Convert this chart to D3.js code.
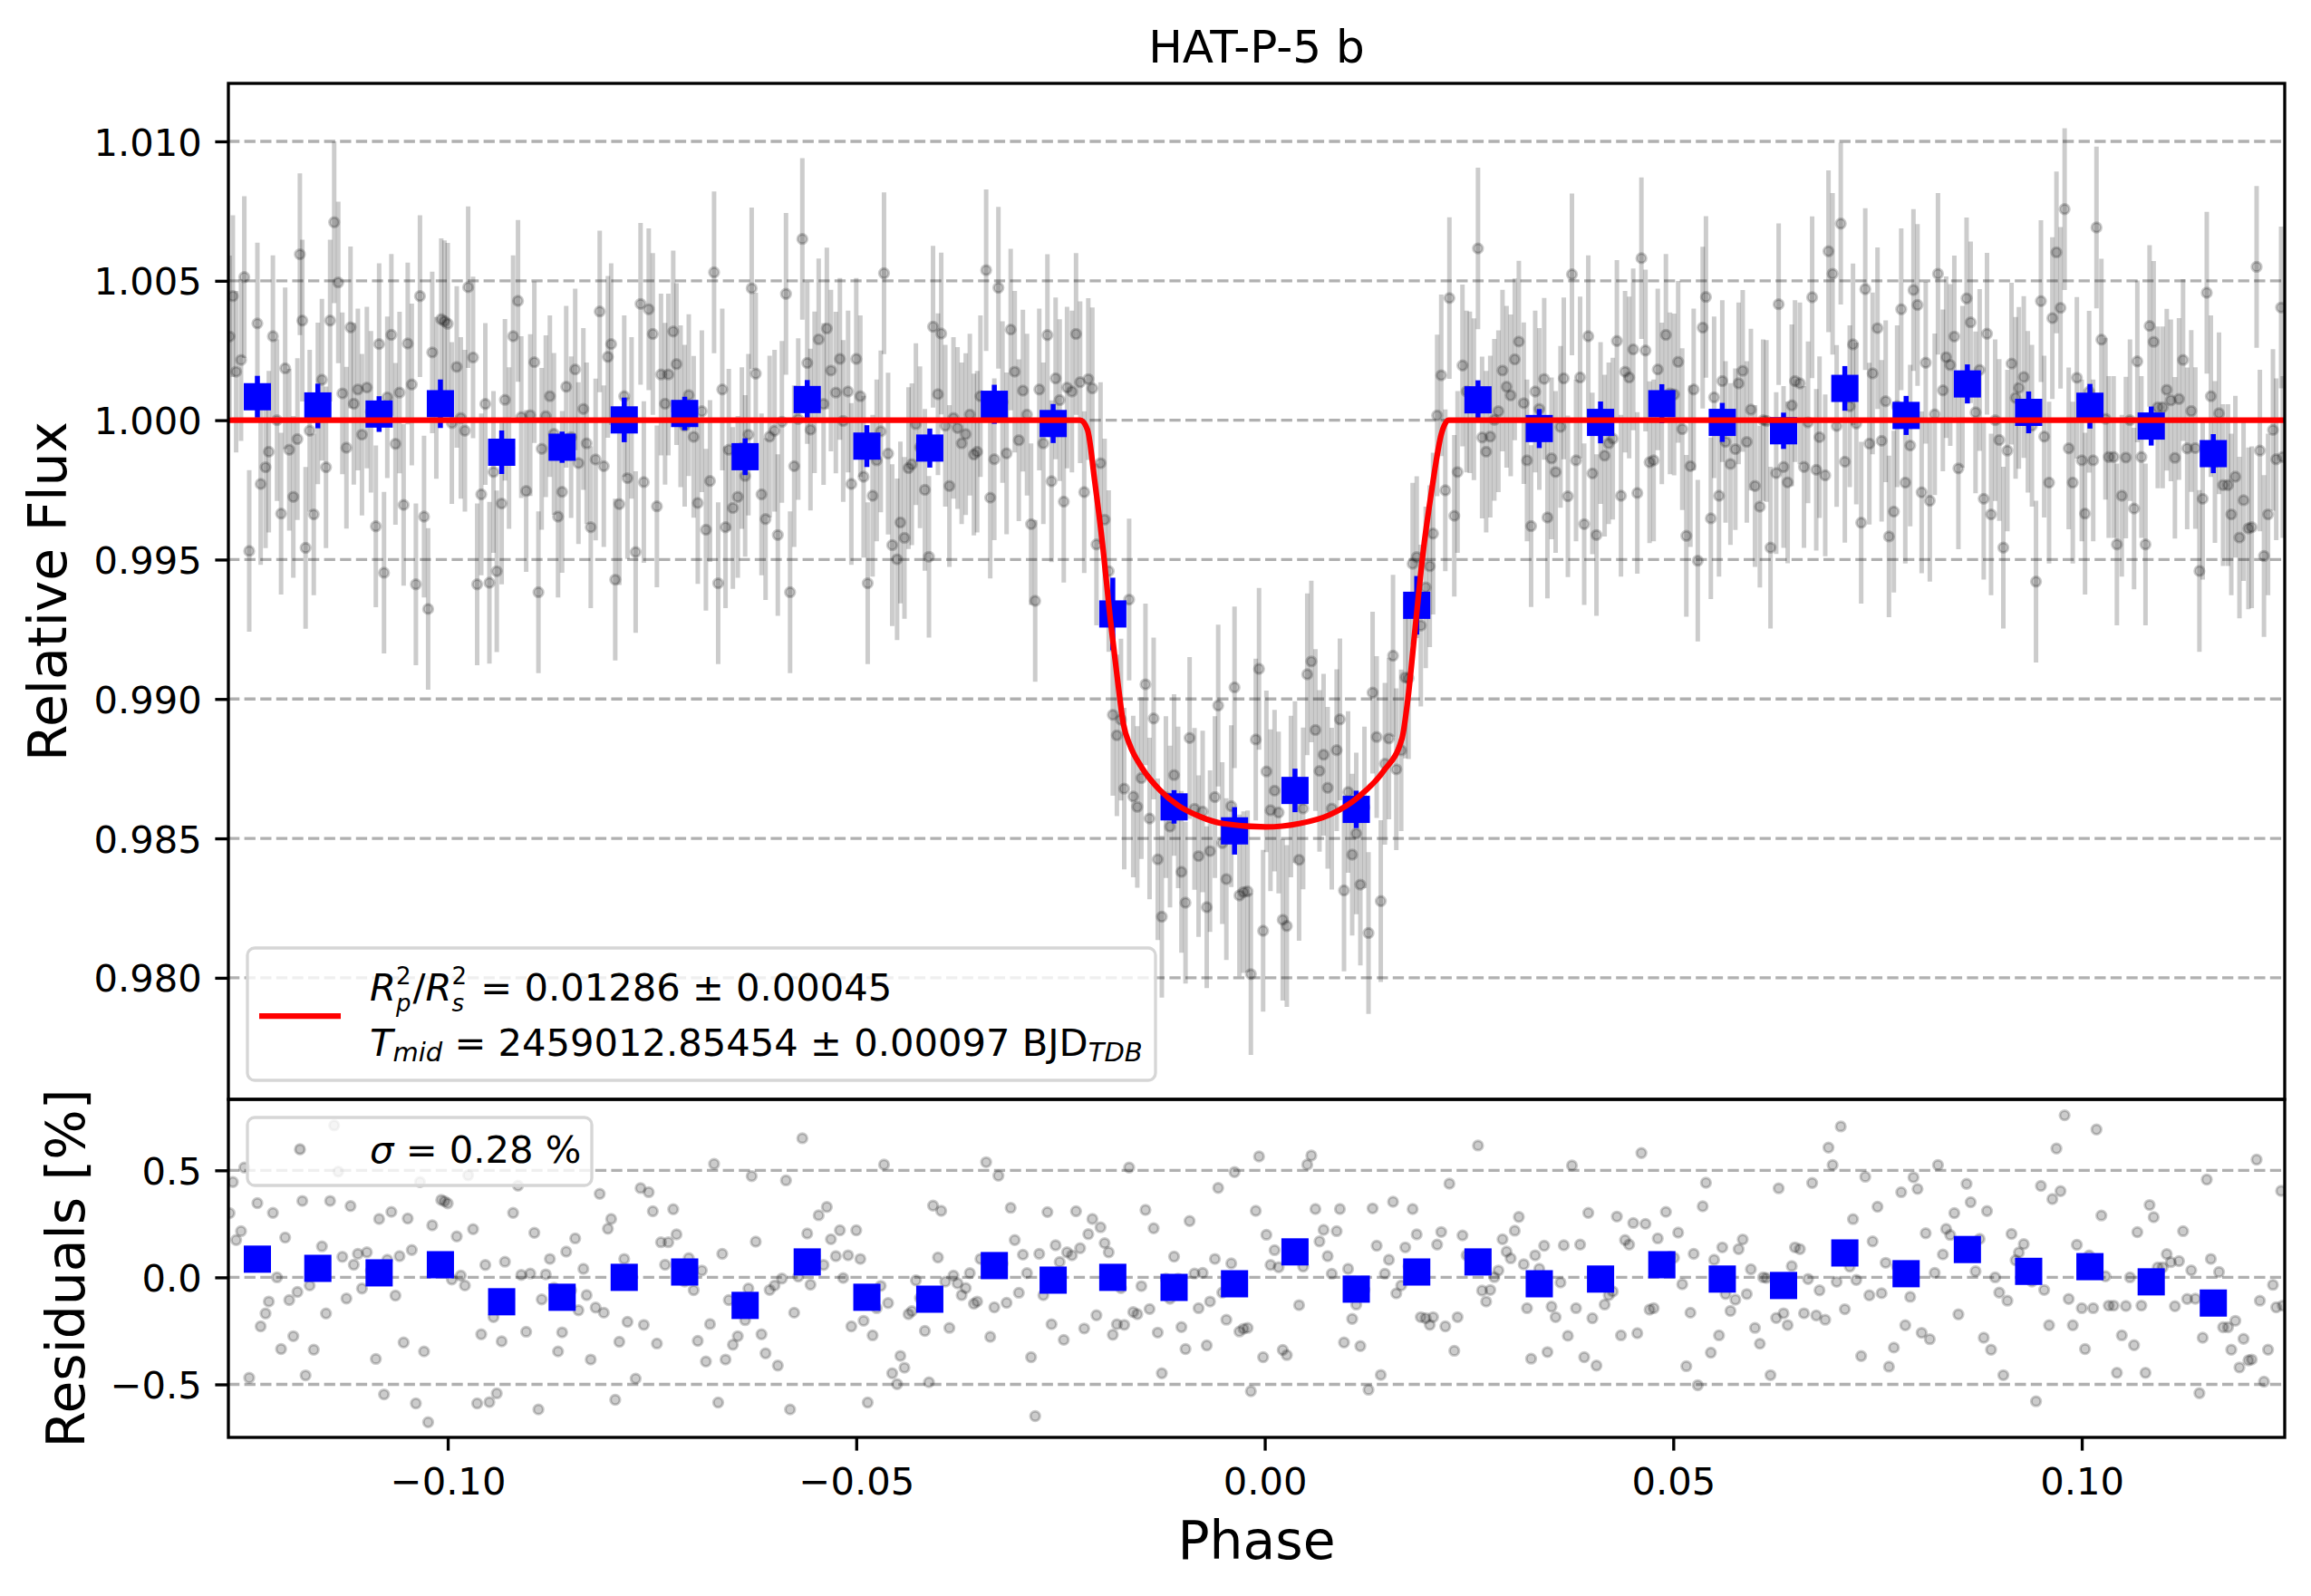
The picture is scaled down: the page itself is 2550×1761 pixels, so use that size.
<!DOCTYPE html>
<html><head>
<meta charset="utf-8">
<title>HAT-P-5 b</title>
<script src="https://d3js.org/d3.v7.min.js"></script>
<style>
  body { margin: 0; background: #fff; }
  svg { display: block; }
  text { font-family: "DejaVu Sans", sans-serif; fill: #000; }
</style>
</head>
<body>
<svg id="lightcurve" width="2550" height="1761"></svg>
<script>

// ---- data ----
// transit model (red line), phase / relative flux
const modelPhase = [-0.1269, -0.0226, -0.0217, -0.0208, -0.0198, -0.0189, -0.0180, -0.0173, -0.0165, -0.0150, -0.0128,
  -0.0106, -0.0080, -0.0051, 0.0001, 0.0042, 0.0079, 0.0116, 0.0145, 0.0168, 0.0175, 0.0184, 0.0193, 0.0205, 0.0216, 0.0225, 0.1249];
const modelFlux = [1.0, 1.0, 0.99966, 0.99779, 0.99540, 0.99285, 0.99064, 0.98910, 0.98834, 0.98752, 0.98672,
  0.98618, 0.98579, 0.98553, 0.98541, 0.98553, 0.98584, 0.98652, 0.98740, 0.98859, 0.98996, 0.99251, 0.99506, 0.99762, 0.99949, 1.0, 1.0];

// individual observations: [phase, residual in %]
const obs = [
[-0.1267,0.30],[-0.1263,0.445],[-0.1259,0.174],[-0.1253,0.216],[-0.1249,0.513],[-0.1243,-0.469],[-0.1233,0.347],[-0.1229,-0.229],[-0.1223,-0.169],[-0.1219,-0.113],
[-0.1214,0.301],[-0.1209,0.0],[-0.1204,-0.335],[-0.1199,0.186],[-0.1194,-0.106],[-0.1189,-0.275],[-0.1184,-0.068],[-0.1181,0.595],[-0.1178,0.357],[-0.1174,-0.458],
[-0.1169,-0.038],[-0.1164,-0.338],[-0.1159,0.06],[-0.1154,0.145],[-0.1149,-0.169],[-0.1144,0.357],[-0.1139,0.710],[-0.1134,0.494],[-0.1129,0.096],[-0.1124,-0.099],
[-0.1119,0.333],[-0.1115,0.059],[-0.1110,0.110],[-0.1105,-0.052],[-0.1099,0.117],[-0.1094,0.03],[-0.1088,-0.381],[-0.1084,0.273],[-0.1078,-0.547],[-0.1074,0.082],
[-0.1069,0.306],[-0.1064,-0.085],[-0.1059,0.099],[-0.1054,-0.304],[-0.1049,0.275],[-0.1044,0.128],[-0.1039,-0.589],[-0.1034,0.445],[-0.1029,-0.346],[-0.1024,-0.677],
[-0.1019,0.243],[-0.1014,0.08],[-0.1008,0.362],[-0.1004,0.355],[-0.1000,0.346],[-0.0995,-0.010],[-0.0989,0.191],[-0.0984,0.008],[-0.0979,-0.038],[-0.0975,0.477],
[-0.0969,0.225],[-0.0964,-0.589],[-0.0959,-0.266],[-0.0954,0.058],[-0.0949,-0.583],[-0.0944,-0.186],[-0.0940,-0.542],[-0.0934,-0.299],[-0.0930,0.073],[-0.0925,-0.10],
[-0.0920,0.301],[-0.0914,0.428],[-0.0910,0.011],[-0.0904,-0.254],[-0.0899,0.018],[-0.0894,0.208],[-0.0889,-0.617],[-0.0885,-0.103],[-0.0880,0.014],[-0.0875,0.086],
[-0.0870,-0.049],[-0.0865,-0.346],[-0.0860,-0.257],[-0.0855,0.120],[-0.0849,-0.061],[-0.0844,0.182],[-0.0840,-0.154],[-0.0834,0.040],[-0.0830,-0.083],[-0.0825,-0.384],
[-0.0819,-0.141],[-0.0814,0.390],[-0.0809,-0.165],[-0.0804,0.227],[-0.0800,0.273],[-0.0795,-0.572],[-0.0790,-0.301],[-0.0784,0.086],[-0.0780,-0.208],[-0.0775,0.008],
[-0.0770,-0.473],[-0.0764,0.417],[-0.0760,-0.222],[-0.0754,0.398],[-0.0749,0.309],[-0.0744,-0.309],[-0.0739,0.164],[-0.0734,0.059],[-0.0730,0.164],[-0.0724,0.318],
[-0.0720,0.201],[-0.0715,0.05],[-0.0710,-0.02],[-0.0705,0.09],[-0.0699,-0.06],[-0.0694,-0.297],[-0.0689,0.032],[-0.0684,-0.393],[-0.0679,-0.218],[-0.0674,0.530],
[-0.0669,-0.585],[-0.0664,0.110],[-0.0660,-0.384],[-0.0656,-0.106],[-0.0651,-0.315],[-0.0645,-0.275],[-0.0640,-0.10],[-0.0636,-0.20],[-0.0632,-0.052],[-0.0628,0.473],
[-0.0623,0.167],[-0.0616,-0.266],[-0.0611,-0.355],[-0.0606,-0.059],[-0.0600,-0.038],[-0.0596,-0.412],[-0.0591,-0.006],[-0.0586,0.453],[-0.0581,-0.617],[-0.0576,-0.165],
[-0.0571,0.004],[-0.0566,0.650],[-0.0560,0.205],[-0.0556,-0.034],[-0.0551,0.10],[-0.0546,0.290],[-0.0540,0.058],[-0.0536,0.329],[-0.0531,0.178],[-0.0525,0.099],
[-0.0520,0.220],[-0.0516,-0.003],[-0.0510,0.103],[-0.0506,-0.229],[-0.0500,0.220],[-0.0495,0.086],[-0.0491,-0.203],[-0.0486,-0.585],[-0.0480,-0.271],[-0.0475,-0.144],
[-0.0470,-0.040],[-0.0466,0.527],[-0.0461,-0.12],[-0.0456,-0.448],[-0.0450,-0.499],[-0.0446,-0.367],[-0.0441,-0.422],[-0.0436,-0.172],[-0.0432,-0.158],[-0.0427,-0.014],
[-0.0422,-0.097],[-0.0416,-0.250],[-0.0411,-0.490],[-0.0406,0.335],[-0.0400,0.093],[-0.0396,0.311],[-0.0391,-0.020],[-0.0386,-0.236],[-0.0381,0.008],[-0.0376,-0.028],
[-0.0371,-0.083],[-0.0366,-0.05],[-0.0361,0.02],[-0.0356,-0.123],[-0.0352,-0.113],[-0.0348,0.086],[-0.0341,0.538],[-0.0336,-0.278],[-0.0331,-0.140],[-0.0326,0.475],
[-0.0321,0.065],[-0.0316,-0.119],[-0.0311,0.325],[-0.0306,0.174],[-0.0301,-0.072],[-0.0296,0.106],[-0.0291,0.02],[-0.0286,-0.373],[-0.0281,-0.648],[-0.0276,0.110],
[-0.0271,-0.083],[-0.0266,0.305],[-0.0261,-0.219],[-0.0256,0.150],[-0.0251,0.072],[-0.0246,-0.292],[-0.0242,0.117],[-0.0236,0.103],[-0.0231,0.309],[-0.0226,0.136],
[-0.0221,-0.239],[-0.0216,0.202],[-0.0211,0.273],[-0.0206,-0.177],[-0.0201,0.234],[-0.0196,0.160],[-0.0191,0.117],[-0.0186,-0.268],[-0.0181,-0.219],[-0.0176,-0.05],
[-0.0172,-0.222],[-0.0166,0.513],[-0.0161,-0.162],[-0.0156,-0.172],[-0.0151,-0.041],[-0.0146,0.315],[-0.0141,-0.148],[-0.0136,0.229],[-0.0131,-0.258],[-0.0126,-0.448],
[-0.0121,-0.007],[-0.0116,-0.10],[-0.0111,0.097],[-0.0106,-0.007],[-0.0102,-0.232],[-0.0097,-0.335],[-0.0092,0.263],[-0.0086,0.018],[-0.0081,-0.144],[-0.0076,0.021],
[-0.0071,-0.318],[-0.0067,-0.113],[-0.0061,0.086],[-0.0057,0.418],[-0.0052,-0.071],[-0.0047,-0.198],[-0.0041,0.065],[-0.0037,0.492],[-0.0031,-0.253],[-0.0026,-0.240],
[-0.0021,-0.236],[-0.0017,-0.532],[-0.0011,0.311],[-0.0007,0.565],[-0.0002,-0.373],[0.0002,0.199],[0.0007,0.058],[0.0012,0.127],[0.0017,0.047],[0.0022,-0.339],
[0.0027,-0.363],[0.0032,0.10],[0.0037,0.15],[0.0042,-0.130],[0.0047,0.05],[0.0052,0.527],[0.0057,0.569],[0.0062,0.319],[0.0067,0.168],[0.0072,0.222],
[0.0077,0.099],[0.0082,0.017],[0.0088,0.216],[0.0092,0.319],[0.0097,-0.304],[0.0102,0.040],[0.0107,-0.194],[0.0112,-0.127],[0.0117,-0.321],[0.0122,-0.059],
[0.0127,-0.525],[0.0132,0.322],[0.0137,0.148],[0.0142,-0.456],[0.0147,0.017],[0.0152,0.082],[0.0157,0.353],[0.0161,-0.075],[0.0167,-0.038],[0.0172,0.140],
[0.0176,0.05],[0.0181,0.319],[0.0186,0.201],[0.0191,-0.186],[0.0197,-0.191],[0.0202,-0.222],[0.0206,-0.186],[0.0211,0.153],[0.0216,0.212],[0.0221,-0.229],
[0.0226,0.438],[0.0232,-0.343],[0.0236,-0.186],[0.0242,0.196],[0.0247,0.103],[0.0251,0.10],[0.0256,0.075],[0.0261,0.616],[0.0266,-0.062],[0.0271,-0.113],
[0.0276,-0.059],[0.0281,0.001],[0.0286,0.032],[0.0291,0.178],[0.0296,0.120],[0.0301,0.089],[0.0306,0.218],[0.0311,0.282],[0.0317,0.061],[0.0321,-0.144],
[0.0326,-0.380],[0.0331,0.103],[0.0336,0.040],[0.0342,0.148],[0.0346,-0.349],[0.0351,-0.137],[0.0356,-0.186],[0.0362,-0.024],[0.0366,0.150],[0.0371,-0.273],
[0.0376,0.523],[0.0381,-0.144],[0.0386,0.153],[0.0391,-0.373],[0.0396,0.301],[0.0401,-0.191],[0.0406,-0.412],[0.0411,-0.010],[0.0416,-0.127],[0.0421,-0.083],
[0.0426,-0.066],[0.0431,0.284],[0.0436,-0.271],[0.0441,0.174],[0.0446,0.153],[0.0451,0.254],[0.0456,-0.261],[0.0461,0.581],[0.0466,0.250],[0.0471,-0.151],
[0.0476,-0.144],[0.0481,0.182],[0.0486,0.06],[0.0491,0.306],[0.0496,0.096],[0.0501,0.092],[0.0506,0.209],[0.0511,-0.032],[0.0516,-0.415],[0.0521,-0.165],
[0.0525,0.110],[0.0530,-0.504],[0.0536,0.332],[0.0540,0.442],[0.0546,-0.352],[0.0550,0.082],[0.0556,-0.271],[0.0560,0.140],[0.0564,-0.078],[0.0570,-0.157],
[0.0576,-0.104],[0.0580,0.132],[0.0585,0.177],[0.0590,-0.078],[0.0595,0.038],[0.0600,-0.236],[0.0606,-0.310],[0.0610,0.0],[0.0614,-0.003],[0.0619,-0.457],
[0.0626,-0.190],[0.0629,0.416],[0.0635,-0.168],[0.0640,-0.223],[0.0645,0.053],[0.0649,0.140],[0.0655,0.132],[0.0660,-0.168],[0.0665,-0.008],[0.0670,0.441],
[0.0675,-0.178],[0.0679,-0.061],[0.0686,-0.198],[0.0690,0.606],[0.0695,0.525],[0.0700,-0.021],[0.0705,0.705],[0.0710,-0.149],[0.0716,0.050],[0.0720,0.272],
[0.0724,-0.012],[0.0730,-0.368],[0.0735,0.470],[0.0740,-0.084],[0.0744,0.168],[0.0750,0.330],[0.0755,-0.074],[0.0760,0.068],[0.0764,-0.417],[0.0770,-0.328],
[0.0774,0.05],[0.0779,0.398],[0.0784,-0.224],[0.0790,-0.091],[0.0794,0.467],[0.0799,0.413],[0.0804,-0.259],[0.0809,0.206],[0.0814,-0.289],[0.0820,0.021],
[0.0824,0.525],[0.0830,0.107],[0.0834,0.226],[0.0839,0.198],[0.0844,0.300],[0.0849,-0.173],[0.0854,0.12],[0.0859,0.437],[0.0864,0.351],[0.0870,0.028],
[0.0875,0.180],[0.0880,-0.282],[0.0884,0.310],[0.0889,-0.338],[0.0894,0.0],[0.0899,-0.071],[0.0904,-0.457],[0.0909,-0.109],[0.0914,0.203],[0.0919,0.08],
[0.0923,0.116],[0.0929,0.155],[0.0934,0.03],[0.0939,-0.020],[0.0944,-0.579],[0.0950,0.427],[0.0954,-0.059],[0.0960,-0.224],[0.0964,0.366],[0.0969,0.602],
[0.0974,0.403],[0.0979,0.757],[0.0984,-0.101],[0.0989,-0.224],[0.0994,0.152],[0.1000,-0.144],[0.1004,-0.335],[0.1009,0.102],[0.1014,-0.144],[0.1018,0.691],
[0.1024,0.289],[0.1029,0.005],[0.1033,-0.132],[0.1039,-0.132],[0.1043,-0.446],[0.1049,-0.271],[0.1054,-0.134],[0.1059,0.0],[0.1064,-0.317],[0.1068,0.211],
[0.1073,-0.132],[0.1078,-0.446],[0.1083,0.338],[0.1088,0.281],[0.1093,0.046],[0.1099,0.046],[0.1104,0.109],[0.1109,0.071],[0.1114,-0.135],[0.1119,0.076],
[0.1124,0.216],[0.1129,-0.101],[0.1134,0.033],[0.1139,-0.10],[0.1144,-0.541],[0.1148,-0.282],[0.1153,0.457],[0.1158,0.086],[0.1163,-0.15],[0.1168,0.025],
[0.1173,-0.233],[0.1179,-0.233],[0.1183,-0.338],[0.1188,-0.203],[0.1193,-0.421],[0.1198,-0.287],[0.1204,-0.388],[0.1208,-0.384],[0.1214,0.550],[0.1218,-0.109],
[0.1223,-0.487],[0.1228,-0.338],[0.1234,-0.035],[0.1238,-0.140],[0.1244,0.404],[0.1246,-0.132]
];
const obsErr = 0.0029;   // typical flux uncertainty of a single point

// binned points (blue squares)
const binPhase = [-0.1233, -0.1159, -0.1084, -0.1009, -0.0934, -0.0860, -0.0784, -0.0710, -0.0636, -0.0560, -0.0487,
  -0.0410, -0.0331, -0.0259, -0.0186, -0.0111, -0.0037, 0.0037, 0.0112, 0.0186, 0.0261, 0.0336,
  0.0411, 0.0486, 0.0560, 0.0635, 0.0710, 0.0785, 0.0860, 0.0935, 0.1010, 0.1085, 0.1161];
const binFlux = [1.00084, 1.00051, 1.00022, 1.00059, 0.99885, 0.99903, 1.00001, 1.00024, 0.99869, 1.00074, 0.99907,
  0.99900, 1.00057, 0.99988, 0.99305, 0.98613, 0.98527, 0.98672, 0.98604, 0.99336, 1.00073, 0.99970,
  0.99992, 1.00059, 0.99992, 0.99962, 1.00114, 1.00017, 1.00130, 1.00028, 1.00050, 0.99979, 0.99880];
const binErr = [0.00075, 0.0008, 0.00064, 0.00087, 0.00078, 0.00056, 0.0008, 0.0006, 0.00066, 0.0007, 0.00075,
  0.0007, 0.0007, 0.0007, 0.0013, 0.0006, 0.00085, 0.00078, 0.00067, 0.00105, 0.0007, 0.0007,
  0.00075, 0.0007, 0.0007, 0.00065, 0.0008, 0.0007, 0.0007, 0.00075, 0.0008, 0.0007, 0.0007];
const binResid = [0.085, 0.042, 0.021, 0.059, -0.114, -0.093, 0.0, 0.025, -0.131, 0.072, -0.093,
  -0.102, 0.055, -0.013, 0.0, -0.047, -0.030, 0.119, -0.055, 0.025, 0.072, -0.030,
  -0.008, 0.059, -0.008, -0.038, 0.114, 0.017, 0.130, 0.028, 0.050, -0.021, -0.120];

// ticks
const fluxTicks = [0.980, 0.985, 0.990, 0.995, 1.000, 1.005, 1.010];
const residTicks = [-0.5, 0.0, 0.5];
const phaseTicks = [-0.10, -0.05, 0.00, 0.05, 0.10];

// ---- layout ----
const svg = d3.select("svg#lightcurve");
const left = 252, right = 2521;
const top1 = 92, bot1 = 1213, bot2 = 1586;
const fs = 41.67, fsLabel = 58.3, lw = 3.33;

const x = d3.scaleLinear().domain([-0.12685, 0.12484]).range([left, right]);
const yFlux = d3.scaleLinear().domain([0.97564, 1.01208]).range([bot1, top1]);
const yRes = d3.scaleLinear().domain([-0.7477, 0.8316]).range([bot2, bot1]);
const model = d3.scaleLinear().domain(modelPhase).range(modelFlux);
const fluxOf = d => model(d[0]) + d[1] / 100;

let defs = svg.append("defs");
defs.append("clipPath").attr("id", "clipTop").append("rect")
  .attr("x", left).attr("y", top1).attr("width", right - left).attr("height", bot1 - top1);
defs.append("clipPath").attr("id", "clipRes").append("rect")
  .attr("x", left).attr("y", bot1).attr("width", right - left).attr("height", bot2 - bot1);

// gridlines
function grid(scale, ticks) {
  svg.append("g").selectAll("line").data(ticks).join("line")
    .attr("x1", left).attr("x2", right)
    .attr("y1", d => scale(d)).attr("y2", d => scale(d))
    .attr("stroke", "#b0b0b0").attr("stroke-width", lw)
    .attr("stroke-dasharray", "12.3,5.3");
}
grid(yFlux, fluxTicks);
grid(yRes, residTicks);

// ---- top panel ----
let topG = svg.append("g").attr("clip-path", "url(#clipTop)");

topG.append("g").selectAll("line").data(obs).join("line")
  .attr("x1", d => x(d[0])).attr("x2", d => x(d[0]))
  .attr("y1", d => yFlux(fluxOf(d) - obsErr)).attr("y2", d => yFlux(fluxOf(d) + obsErr))
  .attr("stroke", "#000").attr("stroke-opacity", 0.2).attr("stroke-width", 5);

topG.append("g").selectAll("circle").data(obs).join("circle")
  .attr("cx", d => x(d[0])).attr("cy", d => yFlux(fluxOf(d))).attr("r", 5.2)
  .attr("fill", "#000").attr("fill-opacity", 0.2)
  .attr("stroke", "#000").attr("stroke-opacity", 0.2).attr("stroke-width", 3);

const bins = binPhase.map((p, i) => ({p: p, f: binFlux[i], e: binErr[i], r: binResid[i]}));

topG.append("g").selectAll("line").data(bins).join("line")
  .attr("x1", d => x(d.p)).attr("x2", d => x(d.p))
  .attr("y1", d => yFlux(d.f - d.e)).attr("y2", d => yFlux(d.f + d.e))
  .attr("stroke", "#0000ff").attr("stroke-width", 5.5);

topG.append("g").selectAll("rect").data(bins).join("rect")
  .attr("x", d => x(d.p) - 15).attr("y", d => yFlux(d.f) - 15)
  .attr("width", 30).attr("height", 30).attr("fill", "#0000ff");

const modelLine = d3.line().x(d => x(d[0])).y(d => yFlux(d[1])).curve(d3.curveMonotoneX);
topG.append("path").datum(d3.zip(modelPhase, modelFlux))
  .attr("d", modelLine).attr("fill", "none")
  .attr("stroke", "#ff0000").attr("stroke-width", 6.25).attr("stroke-linejoin", "round");

// ---- residual panel ----
let resG = svg.append("g").attr("clip-path", "url(#clipRes)");

resG.append("g").selectAll("circle").data(obs).join("circle")
  .attr("cx", d => x(d[0])).attr("cy", d => yRes(d[1])).attr("r", 5.2)
  .attr("fill", "#000").attr("fill-opacity", 0.2)
  .attr("stroke", "#000").attr("stroke-opacity", 0.2).attr("stroke-width", 3);

resG.append("g").selectAll("rect").data(bins).join("rect")
  .attr("x", d => x(d.p) - 15).attr("y", d => yRes(d.r) - 15)
  .attr("width", 30).attr("height", 30).attr("fill", "#0000ff");

// ---- axes ----
function styleAxis(g, dy) {
  g.select(".domain").remove();
  g.selectAll(".tick line").attr("stroke", "#000").attr("stroke-width", lw);
  g.selectAll(".tick text").attr("fill", "#000")
    .attr("font-family", "DejaVu Sans").attr("font-size", fs);
  if (dy) g.selectAll(".tick text").attr("dy", dy);
}

svg.append("g").attr("transform", `translate(${left},0)`)
  .call(d3.axisLeft(yFlux).tickValues(fluxTicks).tickFormat(d3.format(".3f")).tickSize(14.6).tickPadding(14.6))
  .call(g => styleAxis(g, "0.36em"));

svg.append("g").attr("transform", `translate(${left},0)`)
  .call(d3.axisLeft(yRes).tickValues(residTicks).tickFormat(d3.format(".1f")).tickSize(14.6).tickPadding(14.6))
  .call(g => styleAxis(g, "0.36em"));

svg.append("g").attr("transform", `translate(0,${bot2})`)
  .call(d3.axisBottom(x).tickValues(phaseTicks).tickFormat(d3.format(".2f")).tickSize(14.6).tickPadding(18.8))
  .call(g => styleAxis(g, null));

// spines
[[top1, bot1], [bot1, bot2]].forEach(([a, b]) => {
  svg.append("rect").attr("x", left).attr("y", a)
    .attr("width", right - left).attr("height", b - a)
    .attr("fill", "none").attr("stroke", "#000").attr("stroke-width", lw);
});

// titles
const midX = (left + right) / 2;
svg.append("text").attr("x", midX).attr("y", 69).attr("text-anchor", "middle")
  .attr("font-size", 50).text("HAT-P-5 b");
svg.append("text").attr("x", midX).attr("y", 1720).attr("text-anchor", "middle")
  .attr("font-size", fsLabel).text("Phase");
svg.append("text").attr("transform", `translate(73,${(top1 + bot1) / 2}) rotate(-90)`)
  .attr("text-anchor", "middle").attr("font-size", fsLabel).text("Relative Flux");
svg.append("text").attr("transform", `translate(93,${(bot1 + bot2) / 2}) rotate(-90)`)
  .attr("text-anchor", "middle").attr("font-size", fsLabel).text("Residuals [%]");

// ---- legends ----
// one <text> per legend line, runs laid out as tspans (sub/superscripts stacked)
const ss = 29;   // subscript size
const ssStack = 26;   // stacked script size
function mathLine(g, x0, base, runs) {
  const t = g.append("text");
  let cx = x0;
  runs.forEach(r => {
    if (r.stack) {
      const a = t.append("tspan").attr("x", cx).attr("y", base - 18).attr("font-size", ssStack).text(r.stack[0]);
      const b = t.append("tspan").attr("x", cx).attr("y", base + 12).attr("font-size", ssStack)
        .attr("font-style", "italic").text(r.stack[1]);
      cx += Math.max(a.node().getComputedTextLength(), b.node().getComputedTextLength()) + 2;
    } else {
      const s = t.append("tspan").attr("x", cx).attr("y", base + (r.sub ? 6 : 0))
        .attr("font-size", r.sub ? ss : fs).text(r.text);
      if (r.italic) s.attr("font-style", "italic");
      cx += s.node().getComputedTextLength();
    }
  });
}

let leg1 = svg.append("g");
leg1.append("rect").attr("x", 273).attr("y", 1046).attr("width", 1002).attr("height", 146)
  .attr("rx", 8).attr("fill", "#fff").attr("fill-opacity", 0.8)
  .attr("stroke", "#d6d6d6").attr("stroke-width", lw);
leg1.append("line").attr("x1", 286).attr("x2", 376).attr("y1", 1121).attr("y2", 1121)
  .attr("stroke", "#ff0000").attr("stroke-width", 6.25);

mathLine(leg1, 408, 1104, [
  {text: "R", italic: true}, {stack: ["2", "p"]}, {text: "/"},
  {text: "R", italic: true}, {stack: ["2", "s"]},
  {text: "\u00a0=\u00a00.01286\u00a0±\u00a00.00045"}
]);
mathLine(leg1, 408, 1165, [
  {text: "T", italic: true}, {text: "mid", italic: true, sub: true},
  {text: "\u00a0=\u00a02459012.85454\u00a0±\u00a00.00097\u00a0BJD"},
  {text: "TDB", italic: true, sub: true}
]);

let leg2 = svg.append("g");
leg2.append("rect").attr("x", 273).attr("y", 1233).attr("width", 380).attr("height", 75)
  .attr("rx", 8).attr("fill", "#fff").attr("fill-opacity", 0.8)
  .attr("stroke", "#d6d6d6").attr("stroke-width", lw);
leg2.append("circle").attr("cx", 331).attr("cy", 1268).attr("r", 5.2)
  .attr("fill", "#000").attr("fill-opacity", 0.2)
  .attr("stroke", "#000").attr("stroke-opacity", 0.2).attr("stroke-width", 3);
mathLine(leg2, 408, 1283, [{text: "σ", italic: true}, {text: "\u00a0=\u00a00.28\u00a0%"}]);

</script>
</body>
</html>
